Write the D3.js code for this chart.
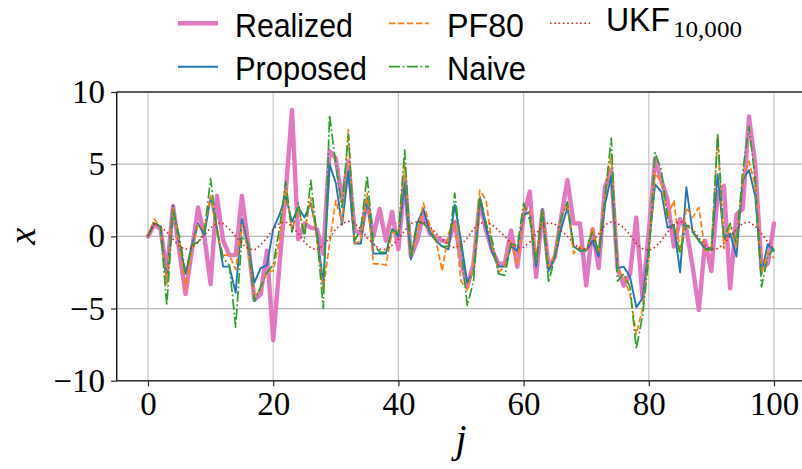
<!DOCTYPE html>
<html><head><meta charset="utf-8">
<script src="https://cdn.jsdelivr.net/npm/d3@7"></script>
<style>body{margin:0;background:#fff}svg{display:block}</style>
</head><body>
<svg id="c" width="802" height="469"></svg>
<script>
const realized=[0,0.8,0.5,-2.5,2.1,-1.0,-4.0,-1.0,2.0,0.0,-3.3,2.8,-0.3,-1.3,-1.3,2.8,-0.5,-4.4,-4.0,-1.0,-7.2,-2.0,3.0,8.75,-0.2,0.9,0.6,0.5,-1.2,5.9,5.4,2.5,5.2,0.4,0.2,2.5,0.0,1.9,-0.3,1.7,-0.9,4.1,-1.4,-0.3,1.6,0.2,-0.1,-0.3,-0.4,1.0,-1.7,-3.5,-1.9,2.5,0.4,-1.0,-1.9,-1.9,0.4,-2.1,1.4,3.1,-2.8,1.8,-2.2,-1.4,1.3,3.9,0.9,0.9,-3.4,0.5,-2.2,3.4,4.6,-2.2,-3.4,-2.6,1.3,-4.3,0.3,5.4,3.9,2.5,-0.7,1.2,0.5,-2.1,-5.1,-0.3,-2.4,3.0,3.5,-3.6,1.5,1.9,8.3,5.0,-2.2,-1.9,0.9];
const proposed=[0,0.9,0.7,-3.2,2.1,-0.5,-2.6,-0.7,0.9,0.1,2.7,0.6,-2.1,-2.1,-3.9,1.2,-0.7,-3.2,-2.2,-2.0,0.5,1.5,2.8,1.0,2.0,1.3,2.3,0.2,-3.3,5.0,3.7,0.8,4.5,-0.5,-0.5,2.7,-1.2,-1.2,-1.2,0.5,0.0,3.7,-1.6,0.9,1.9,0.3,-0.3,-0.7,-0.9,2.2,-0.3,-3.2,-2.4,2.6,0.6,-1.1,-2.1,-2.1,-0.7,-1.0,1.5,1.7,-2.1,1.9,-2.4,-1.4,0.5,2.0,-0.7,-1.0,-1.0,-0.3,-1.4,2.2,4.2,-2.2,-2.1,-2.8,-4.9,-4.3,-0.8,3.6,3.1,0.6,0.8,-2.5,3.4,0.3,-0.3,-0.85,-0.9,4.3,-0.2,0.2,-1.4,3.9,4.6,2.8,-2.6,-0.55,-1.0];
const pf80=[0,1.2,0.6,-3.3,2.0,-0.5,-3.7,-1.0,0.8,0.5,2.8,0.2,-1.3,-1.3,-2.3,0.8,-1.0,-4.2,-3.7,-2.4,-2.4,-0.3,3.3,0.4,2.0,0.2,2.7,-0.3,-3.7,-0.5,2.5,1.0,7.4,-0.5,-0.3,3.0,-1.9,-1.9,-2.0,0.3,0.2,5.0,-1.4,0.2,2.3,0.8,-0.3,-2.4,0.2,1.0,-3.1,-3.7,-2.1,3.2,2.5,-0.7,-2.5,-2.1,-0.3,-2.0,2.0,1.8,-1.6,1.8,-2.1,-1.3,1.3,2.3,-1.2,-0.7,-1.0,0.6,-1.2,2.7,5.7,-2.3,-2.8,-4.0,-6.8,-5.0,-1.2,4.4,3.7,1.3,2.5,-1.1,2.0,1.3,2.0,-1.0,-0.9,7.0,-0.85,0.8,-0.7,4.0,5.2,3.5,-2.6,-1.1,-1.5];
const naive=[0,1.0,0.6,-4.8,1.8,0.0,-2.5,-0.6,-0.4,0.3,4.0,0.5,-1.5,-2.0,-6.3,0.0,-0.5,-4.5,-3.5,-2.5,-2.0,0.5,3.8,0.3,2.3,-0.1,3.9,0.0,-5.0,8.4,5.0,2.0,7.1,-0.3,0.5,4.2,-0.5,-1.1,-1.1,0.5,0.2,6.0,-1.4,1.0,0.9,0.4,-0.3,-0.7,-0.7,3.0,-0.7,-4.8,-3.1,2.8,0.9,-0.3,-2.6,-2.7,-0.5,-0.7,2.3,1.1,-1.9,1.8,-3.2,-1.4,1.3,2.4,-0.7,-1.0,-0.9,0.3,-1.1,2.7,6.8,-3.1,-2.6,-3.5,-7.8,-5.5,-1.5,5.8,4.6,1.3,0.6,-1.2,0.8,0.4,-0.3,-0.9,-0.95,7.1,-0.1,0.9,-0.5,4.5,7.6,4.0,-3.5,-1.4,-0.85];
const ukf=[0,0.9,0.7,0.3,-0.2,-0.7,-0.9,-0.8,-0.4,0.1,0.6,0.9,0.9,0.5,0.0,-0.5,-0.85,-0.95,-0.6,-0.1,0.5,0.9,1.0,0.7,0.2,-0.4,-0.8,-0.95,-0.6,-0.1,0.5,0.9,1.05,0.9,0.5,-0.1,-0.5,-0.9,-0.9,-0.6,-0.2,0.4,0.9,1.0,1.0,0.7,0.2,-0.2,-0.6,-0.8,-0.6,-0.1,0.5,0.9,1.0,0.8,0.4,0.0,-0.5,-0.8,-0.75,-0.4,0.2,0.7,0.95,0.85,0.4,0.0,-0.5,-0.85,-0.85,-0.4,0.2,0.8,1.0,0.9,0.6,0.1,-0.5,-0.85,-1.0,-0.75,-0.3,0.3,0.8,1.05,0.9,0.5,-0.1,-0.6,-0.9,-0.85,-0.5,0.0,0.5,0.9,1.0,0.7,0.2,-0.4,-0.85];
const xTicks=[0,20,40,60,80,100];
const yTicks=[-10,-5,0,5,10];

const svg=d3.select("#c");
const x=d3.scaleLinear().domain([-5,105]).range([116.7,805.3]);
const y=d3.scaleLinear().domain([-10,10]).range([380.7,92]);
const serif="'Liberation Serif','Times New Roman',serif";
const sans="'Liberation Sans',Arial,sans-serif";

// grid
const g=svg.append("g");
g.selectAll("line.gx").data(xTicks).enter().append("line")
 .attr("x1",d=>x(d)).attr("x2",d=>x(d)).attr("y1",y(-10)).attr("y2",y(10))
 .attr("stroke","#c4c4c4").attr("stroke-width",1.2);
g.selectAll("line.gy").data(yTicks).enter().append("line")
 .attr("x1",x(-5)).attr("x2",x(105)).attr("y1",d=>y(d)).attr("y2",d=>y(d))
 .attr("stroke","#b8b8b8").attr("stroke-width",1.2);

const series=[
 {name:"Realized",data:realized,color:"#e377c2",w:4.4,dash:null},
 {name:"Proposed",data:proposed,color:"#1f77b4",w:1.9,dash:null},
 {name:"PF80",data:pf80,color:"#ff7f0e",w:1.7,dash:"6.3,2.7"},
 {name:"Naive",data:naive,color:"#2ca02c",w:1.7,dash:"10.9,2.7,1.7,2.7"},
 {name:"UKF",data:ukf,color:"#d62728",w:1.6,dash:"1.6,2.7"}
];
const line=d3.line().x((d,i)=>x(i)).y(d=>y(d));
svg.append("defs").append("clipPath").attr("id","cp").append("rect")
 .attr("x",x(-5)).attr("y",y(10)).attr("width",x(105)-x(-5)).attr("height",y(-10)-y(10));
const pg=svg.append("g").attr("clip-path","url(#cp)");
series.forEach(s=>{
 pg.append("path").datum(s.data).attr("d",line).attr("fill","none")
  .attr("stroke",s.color).attr("stroke-width",s.w)
  .attr("stroke-linejoin","round").attr("stroke-linecap",s.dash?"butt":"round")
  .attr("stroke-dasharray",s.dash);
});

// axes
const ax=svg.append("g").attr("transform",`translate(0,${y(-10)})`)
 .call(d3.axisBottom(x).tickValues(xTicks).tickSize(5.6).tickPadding(5.6).tickFormat(d3.format("d")));
const ay=svg.append("g").attr("transform",`translate(${x(-5)},0)`)
 .call(d3.axisLeft(y).tickValues(yTicks).tickSize(5.6).tickPadding(6).tickFormat(d3.format("d")));
[ax,ay].forEach(a=>{
 a.select(".domain").remove();
 a.selectAll(".tick line").attr("stroke","#222").attr("stroke-width",1.2);
 a.selectAll("text").attr("font-family",serif).attr("font-size",33).attr("fill","#000");
});
// spines
svg.append("line").attr("x1",x(-5)).attr("x2",x(105)).attr("y1",y(-10)).attr("y2",y(-10)).attr("stroke","#333").attr("stroke-width",1.6);
svg.append("line").attr("x1",x(-5)).attr("x2",x(105)).attr("y1",y(10)).attr("y2",y(10)).attr("stroke","#333").attr("stroke-width",1.6);
svg.append("line").attr("x1",x(-5)).attr("x2",x(-5)).attr("y1",y(10)).attr("y2",y(-10)).attr("stroke","#111").attr("stroke-width",1.4);

// axis labels
svg.append("text").attr("transform","translate(35,236) rotate(-90)").attr("text-anchor","middle")
 .attr("font-family",serif).attr("font-style","italic").attr("font-size",38).text("x");
svg.append("text").attr("x",461).attr("y",452).attr("text-anchor","middle")
 .attr("font-family",serif).attr("font-style","italic").attr("font-size",40).text("j");

// legend
const leg=[
 {s:series[0],lx:178,ly:23.3,tx:235,ty:37,tw:118},
 {s:series[1],lx:178,ly:66.7,tx:235,ty:80,tw:132},
 {s:series[2],lx:389,ly:23.3,tx:447,ty:37,tw:77},
 {s:series[3],lx:389,ly:66.7,tx:447,ty:80,tw:79},
 {s:series[4],lx:550,ly:23.3,tx:606,ty:31,tw:64}
];
const lg=svg.append("g");
leg.forEach(l=>{
 lg.append("line").attr("x1",l.lx).attr("x2",l.lx+40).attr("y1",l.ly).attr("y2",l.ly)
  .attr("stroke",l.s.color).attr("stroke-width",l.s.w).attr("stroke-dasharray",l.s.dash);
 lg.append("text").attr("x",l.tx).attr("y",l.ty).attr("font-family",sans).attr("font-size",33)
  .attr("textLength",l.tw).attr("lengthAdjust","spacingAndGlyphs").text(l.s.name);
});
lg.append("text").attr("x",673).attr("y",36.5).attr("font-family",serif).attr("font-size",23)
 .attr("textLength",69).attr("lengthAdjust","spacingAndGlyphs").text("10,000");
</script>
</body></html>
